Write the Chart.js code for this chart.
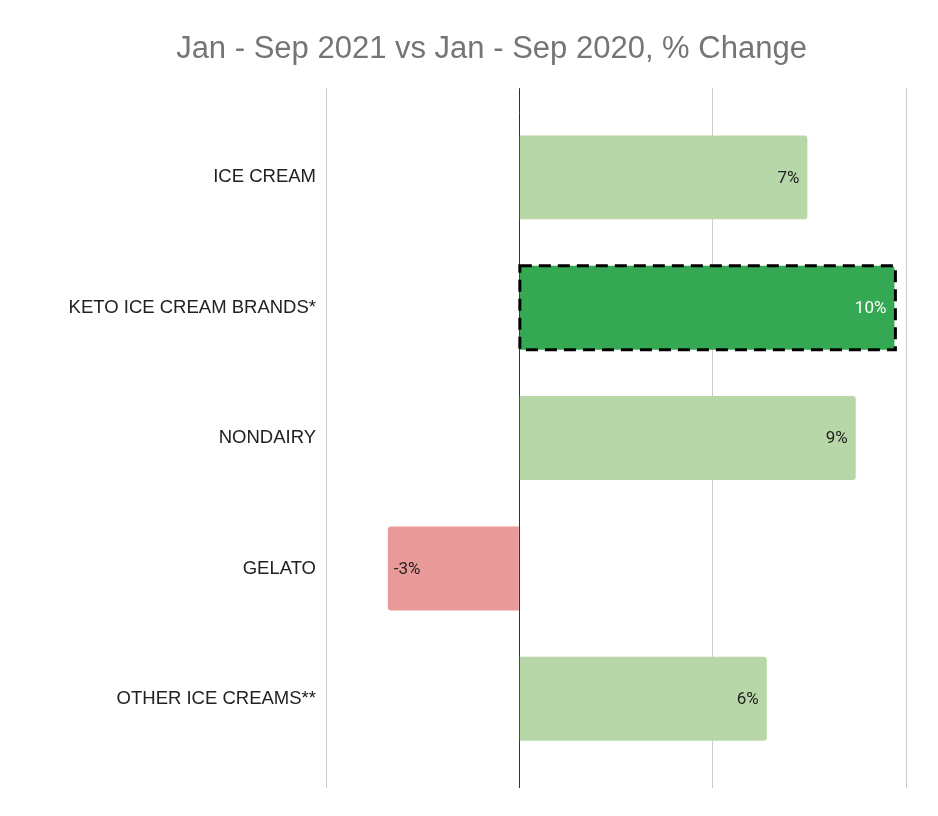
<!DOCTYPE html>
<html>
<head>
<meta charset="utf-8">
<script src="https://cdn.jsdelivr.net/npm/chart.js@4.4.0/dist/chart.umd.min.js"></script>
<style>
  body { margin: 0; background: #fff; }
</style>
</head>
<body>
<canvas id="myChart" width="938" height="816"></canvas>
<script>
var categories = ['ICE CREAM', 'KETO ICE CREAM BRANDS*', 'NONDAIRY', 'GELATO', 'OTHER ICE CREAMS**'];
var changes = [7.45, 9.7, 8.7, -3.4, 6.4];
var barColors = ['#b7d7a8', '#34a853', '#b7d7a8', '#ea9999', '#b7d7a8'];
var labelColors = ['#222222', '#ffffff', '#222222', '#222222', '#222222'];
var highlighted = 1; // keto gets the dashed box

// value labels inside the bar end
var barLabels = {
    id: 'barLabels',
    afterDatasetsDraw: function (chart) {
        var ctx = chart.ctx;
        var meta = chart.getDatasetMeta(0);
        ctx.save();
        ctx.font = '17px Roboto';
        ctx.textBaseline = 'middle';
        meta.data.forEach(function (bar, i) {
            var v = changes[i];
            var txt = Math.round(v) + '%';
            ctx.fillStyle = labelColors[i];
            if (v >= 0) {
                ctx.textAlign = 'right';
                ctx.fillText(txt, bar.x - 8, bar.y + 1);
            } else {
                ctx.textAlign = 'left';
                ctx.fillText(txt, bar.x + 6, bar.y + 1);
            }
        });
        ctx.restore();
    }
};

// dashed outline, bar elements can't do borderDash themselves
var dashedBox = {
    id: 'dashedBox',
    afterDatasetsDraw: function (chart) {
        var bar = chart.getDatasetMeta(0).data[highlighted];
        var p = bar.getProps(['x', 'y', 'base', 'height'], true);
        var ctx = chart.ctx;
        ctx.save();
        ctx.strokeStyle = '#000';
        ctx.lineWidth = 3;
        ctx.setLineDash([12, 7]);
        var left = Math.min(p.base, p.x), right = Math.max(p.base, p.x);
        ctx.strokeRect(left, p.y - p.height / 2, right - left + 1, p.height);
        ctx.restore();
    }
};

var gridColor = function (c) {
    return c.tick && c.tick.value === 0 ? '#333333' : '#cccccc';
};

var ctx = document.getElementById('myChart');

var myChart = new Chart(ctx, {
    type: 'bar',
    data: {
        labels: categories,
        datasets: [{
            data: changes,
            backgroundColor: barColors,
            borderWidth: 0,
            borderRadius: 3,
            borderSkipped: 'start',
            barPercentage: 0.644,
            categoryPercentage: 1
        }]
    },
    options: {
        indexAxis: 'y',
        responsive: false,
        animation: false,
        layout: { padding: { left: 77, right: 32, top: 0, bottom: 28 } },
        plugins: {
            legend: { display: false },
            tooltip: { enabled: false },
            title: {
                display: true,
                text: 'Jan - Sep 2021 vs Jan - Sep 2020, % Change',
                color: '#757575',
                font: { family: 'Liberation Sans', size: 31, weight: 'normal' },
                padding: { top: 31, bottom: 20 }
            }
        },
        scales: {
            x: {
                min: -5,
                max: 10,
                ticks: { display: false, stepSize: 5 },
                border: { display: false },
                grid: { color: gridColor, tickColor: gridColor, tickLength: 24 }
            },
            x2: {
                position: 'top',
                min: -5,
                max: 10,
                ticks: { display: false, stepSize: 5 },
                border: { display: false },
                grid: { drawOnChartArea: false, color: gridColor, tickColor: gridColor, tickLength: 24 }
            },
            y: {
                ticks: {
                    color: '#222222',
                    padding: 2,
                    font: { family: 'Liberation Sans', size: 18.5 }
                },
                border: { display: false },
                grid: { display: false },
                afterFit: function (scale) {
                    scale.width = 249;
                    // long label runs past the padding, don't clip it
                    scale._computeLabelArea = function () { return undefined; };
                }
            }
        }
    },
    plugins: [barLabels, dashedBox]
});
</script>
</body>
</html>
